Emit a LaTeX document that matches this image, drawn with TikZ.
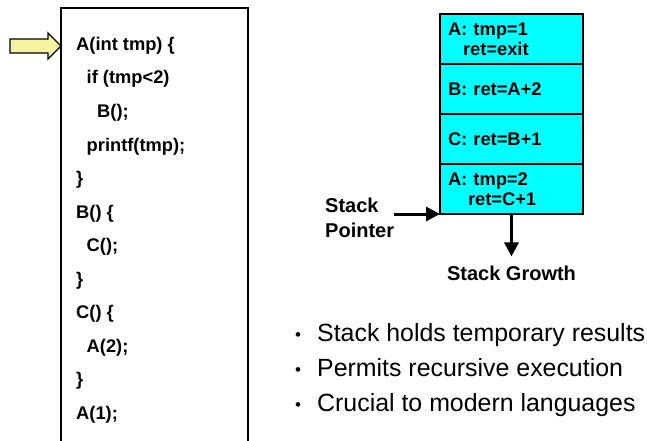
\documentclass[tikz,border=0pt]{standalone}
\usepackage{fontspec}
\setmainfont{Liberation Sans}
\usetikzlibrary{calc, positioning, arrows.meta}
\definecolor{pointeryellow}{RGB}{245,245,160}
\definecolor{framecyan}{RGB}{0,255,255}

\begin{document}
\begin{tikzpicture}[x=1pt, y=-1pt,
  codeline/.style={anchor=base west, inner sep=0pt, font=\fontsize{18.3}{20}\selectfont\bfseries},
  frame/.style={draw, line width=2.2pt, fill=framecyan, minimum width=143pt, minimum height=50pt,
    text width=127pt, inner xsep=8pt, align=left, outer sep=0pt, font=\fontsize{18.3}{20}\selectfont\bfseries},
  label/.style={inner sep=0pt, font=\fontsize{20}{25}\selectfont\bfseries},
  growarrow/.style={line width=3pt, -{Triangle[length=14pt, width=14pt]}},
  bullettext/.style={anchor=base west, inner sep=0pt, font=\fontsize{24.9}{28}\selectfont},
  bulletdot/.style={inner sep=0pt, font=\fontsize{17}{17}\selectfont}]
\useasboundingbox (0,0) rectangle (647,441);
\clip (0,0) rectangle (647,441);

% Program listing
\draw[line width=2pt] (61,445) -- (61,8) -- (248,8) -- (248,445);
\foreach \ind/\txt [count=\i] in {0/{A(int tmp) \{}, 1/{if (tmp<2)}, 2/{B();}, 1/{printf(tmp);},
    0/{\}}, 0/{B() \{}, 1/{C();}, 0/{\}}, 0/{C() \{}, 1/{A(2);}, 0/{\}}, 0/{A(1);}}
{
  \pgfmathsetmacro{\cx}{76+10.5*\ind}
  \pgfmathsetmacro{\cy}{50.5+33.5*(\i-1)}
  \node[codeline] (line\i) at (\cx,\cy) {\txt};
}
\draw[line width=1.3pt, fill=pointeryellow] (10,39) -- (48,39) -- (48,33) -- (61,46)
  -- (48,59) -- (48,53) -- (10,53) -- cycle;

% Stack frames
\node[frame] (frame1) at (511.5,39) {A: tmp=1\\\hspace*{15pt}ret=exit};
\node[frame, below=0pt of frame1] (frame2) {B: ret=A+2};
\node[frame, below=0pt of frame2] (frame3) {C: ret=B+1};
\node[frame, below=0pt of frame3] (frame4) {A: tmp=2\\\hspace*{20pt}ret=C+1};

% Pointer and growth
\node[label, align=left, anchor=west] (pointer) at (325,218) {Stack\\Pointer};
\draw[growarrow] (pointer.east |- frame4.south west) -- (frame4.south west);
\node[label] (growth) at (511.5,273) {Stack Growth};
\draw[growarrow, shorten >=9pt] (frame4.south) -- (growth.north);

% Notes
\foreach \txt [count=\i] in {Stack holds temporary results, Permits recursive execution,
    Crucial to modern languages}
{
  \pgfmathsetmacro{\by}{341+35*(\i-1)}
  \node[bulletdot] (dot\i) at (298,\by-4) {\textbullet};
  \node[bullettext] (item\i) at (317,\by) {\txt};
}
\end{tikzpicture}
\end{document}
